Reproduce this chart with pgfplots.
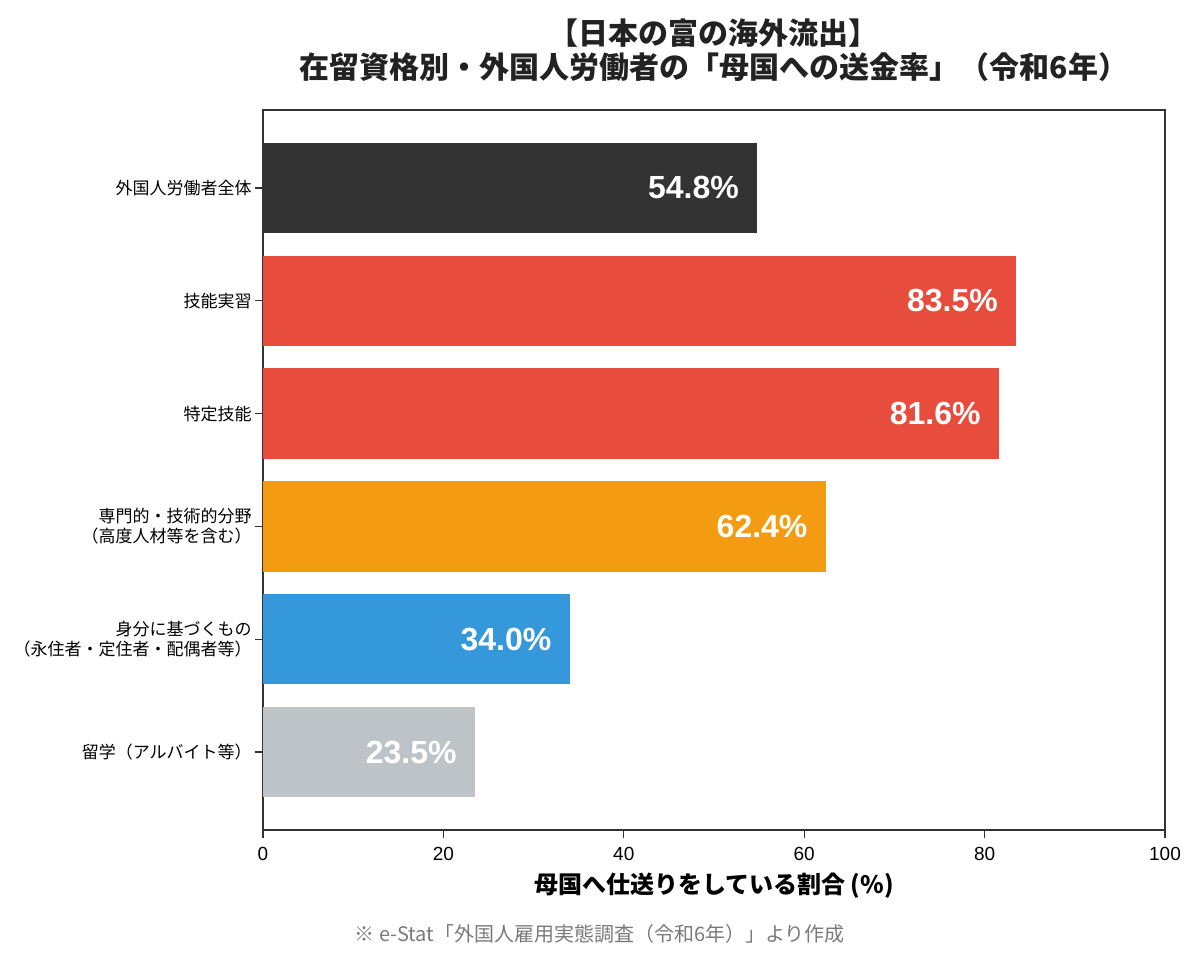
\documentclass[border=0pt]{standalone}
\usepackage{fontspec}
\usepackage{pgfplots}
\pgfplotsset{compat=1.18}
\setmainfont{Liberation Sans}
\newfontfamily\cjk{Noto Sans CJK JP}
\definecolor{cDark}{HTML}{333333}
\definecolor{cRed}{HTML}{E74C3C}
\definecolor{cOrange}{HTML}{F39C12}
\definecolor{cBlue}{HTML}{3498DB}
\definecolor{cGray}{HTML}{BDC3C7}
\definecolor{cText}{HTML}{222222}
\definecolor{cFoot}{HTML}{7A7A7A}
\begin{document}
\begin{tikzpicture}
\useasboundingbox (-131.5pt,-65pt) rectangle (468.5pt,415pt);
\begin{axis}[
  at={(0,0)}, anchor=south west,
  scale only axis, width=451pt, height=360pt,
  clip mode=individual,
  xmin=0, xmax=100, ymin=-0.69, ymax=5.69,
  y dir=reverse,
  xbar, bar shift=0pt, bar width=0.8,
  xtick={0,20,...,100},
  ytick={0,...,5},
  yticklabels={
    {外国人労働者全体},
    {技能実習},
    {特定技能},
    {専門的・技術的分野\\（高度人材等を含む）},
    {身分に基づくもの\\（永住者・定住者・配偶者等）},
    {留学（アルバイト等）}},
  xtick pos=bottom, ytick pos=left,
  tick align=outside, major tick length=4pt,
  tick style={cDark, line width=0.7pt},
  axis line style={cDark, line width=0.75pt},
  /pgf/number format/assume math mode=true,
  xticklabel style={font=\fontsize{9.5}{11}\selectfont, text=black, yshift=-1pt},
  yticklabel style={font=\cjk\fontsize{8.5}{10}\selectfont, align=right, text=black, inner sep=1.5pt},
  nodes near coords={\pgfmathprintnumber[fixed,precision=1,fixed zerofill]{\pgfplotspointmeta}\%},
  nodes near coords align={anchor=east},
  every node near coord/.append style={font=\bfseries\fontsize{16}{16}\selectfont, text=white, inner sep=0pt, xshift=-9pt},
  xlabel={母国へ仕送りをしている割合 (\%)},
  xlabel style={at={(axis description cs:0.5,0)}, anchor=center, yshift=-28pt, font=\cjk\bfseries\fontsize{12}{14}\selectfont, text=black},
  title={【日本の富の海外流出】\\在留資格別・外国人労働者の「母国への送金率」（令和6年）},
  title style={at={(axis description cs:0.5,1)}, anchor=center, yshift=24pt, align=center, font=\cjk\bfseries\fontsize{15}{17}\selectfont, text=cText},
]
\addplot[fill=cDark, draw=none] coordinates {(54.8,0)};
\addplot[fill=cRed, draw=none] coordinates {(83.5,1)};
\addplot[fill=cRed, draw=none] coordinates {(81.6,2)};
\addplot[fill=cOrange, draw=none] coordinates {(62.4,3)};
\addplot[fill=cBlue, draw=none] coordinates {(34.0,4)};
\addplot[fill=cGray, draw=none] coordinates {(23.5,5)};
\node[font=\cjk\fontsize{10}{12}\selectfont, text=cFoot, anchor=center] at (rel axis cs:0.3736,0) [yshift=-52pt] {※ e-Stat「外国人雇用実態調査（令和6年）」より作成};
\end{axis}
\end{tikzpicture}
\end{document}
